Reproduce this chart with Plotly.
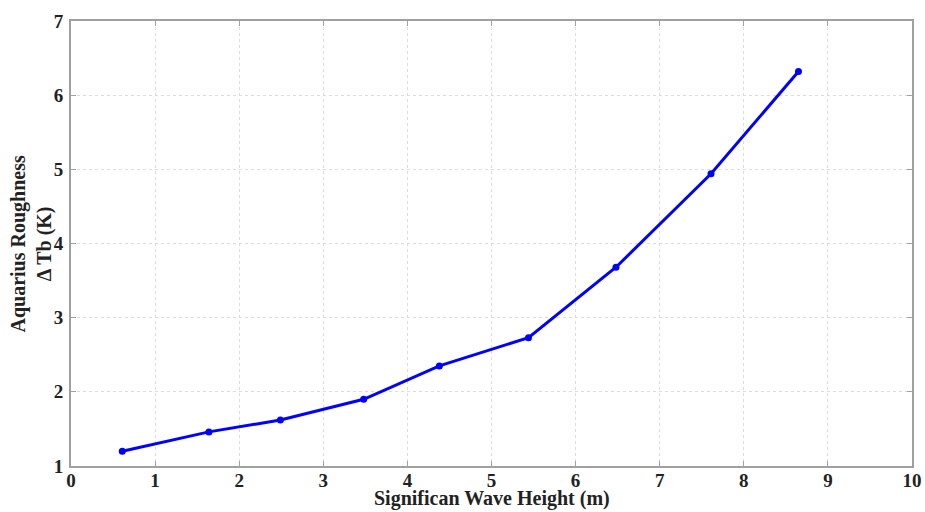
import plotly.graph_objects as go

wave_height = [0.61, 1.64, 2.49, 3.48, 4.38, 5.44, 6.48, 7.61, 8.65]
delta_tb = [1.20, 1.46, 1.62, 1.90, 2.35, 2.73, 3.68, 4.94, 6.32]

x_ticks = list(range(0, 11))
y_ticks = list(range(1, 8))

x_title = "Significan Wave Height (m)"
y_title = "Aquarius Roughness<br>Δ Tb (K)"

font_family = "Liberation Serif, Times New Roman, serif"

fig = go.Figure()
fig.add_trace(go.Scatter(
    x=wave_height, y=delta_tb, mode="lines+markers",
    line=dict(color="#0000ff", width=3),
    marker=dict(color="#0000ff", size=7),
    showlegend=False,
))

axis_common = dict(
    showline=True, linecolor="#a0a0a0", linewidth=2, mirror="ticks",
    ticks="inside", ticklen=5, tickcolor="#a0a0a0",
    showgrid=True, gridcolor="#dcdcdc", griddash="dot", gridwidth=1,
    zeroline=False, automargin=False, ticklabeloverflow="allow",
    tickfont=dict(family=font_family, size=19, color="#222", weight="bold"),
)

fig.update_xaxes(range=[0, 10], tickvals=x_ticks, ticklabelstandoff=-4, **axis_common)
fig.update_yaxes(range=[1, 7], tickvals=y_ticks, ticklabelstandoff=2, **axis_common)

fig.add_annotation(
    text=x_title, xref="paper", yref="paper", x=0.5, y=0,
    xanchor="center", yanchor="middle", yshift=-32, showarrow=False,
    font=dict(family=font_family, size=20, color="#222", weight="bold"),
)
fig.add_annotation(
    text=y_title, xref="paper", yref="paper", x=0, y=0.5,
    xanchor="center", yanchor="middle", xshift=-40, textangle=-90, showarrow=False,
    font=dict(family=font_family, size=20, color="#222", weight="bold"),
)

fig.update_layout(
    width=925, height=512,
    margin=dict(l=71, r=13, t=21, b=46),
    paper_bgcolor="white", plot_bgcolor="white",
    font=dict(family=font_family),
)

fig.write_html(
    "out.html",
    config={"displayModeBar": False},
    post_script="document.body.style.margin='0';document.body.style.overflow='hidden';",
)
